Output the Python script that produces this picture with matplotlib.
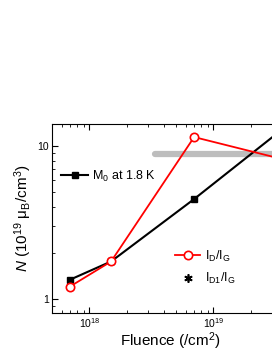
import numpy as np
import matplotlib.pyplot as plt

plt.rcParams['font.family'] = ['Liberation Sans', 'DejaVu Sans']
plt.rcParams['mathtext.fontset'] = 'custom'
plt.rcParams['mathtext.rm'] = 'Liberation Sans'
plt.rcParams['mathtext.it'] = 'Liberation Sans:italic'

# fluence (/cm^2) and N (10^19 muB/cm^3)
fluence_m0 = [7e17, 1.5e18, 7e18, 3.5e19]
n_m0 = [1.33, 1.75, 4.48, 12.6]

fluence_id = [7e17, 1.5e18, 7e18, 4e19]
n_id = [1.2, 1.75, 11.4, 8.0]

band_x = [3.4e18, 4e19]
band_y = [8.8, 8.8]

fig = plt.figure(figsize=(2.72, 3.52), dpi=100)
ax = fig.add_axes([0.192, 0.111, 0.867, 0.537])

ax.plot(band_x, band_y, color='#bdbdbd', lw=4.5, solid_capstyle='round', zorder=1)
l1, = ax.plot(fluence_m0, n_m0, '-s', color='black', lw=1.5, ms=4, zorder=2,
              label=r'M$_\mathrm{0}$ at 1.8 K')
l2, = ax.plot(fluence_id, n_id, '-o', color='red', lw=1.3, ms=6, mfc='white',
              mec='red', mew=1.2, zorder=3, label=r'I$_\mathrm{D}$/I$_\mathrm{G}$')
l3, = ax.plot([], [], ls='none', marker=(6, 2, 0), color='black', ms=6, mew=1.2,
              label=r'I$_\mathrm{D1}$/I$_\mathrm{G}$')

ax.set_xscale('log')
ax.set_yscale('log')
ax.set_xlim(5.03e17, 4e19)
ax.set_ylim(0.806, 13.9)

ax.tick_params(which='both', direction='in', top=True, right=True, labelsize=7.5,
               pad=2.5)
ax.tick_params(which='major', length=4)
ax.tick_params(which='minor', length=2)
ax.yaxis.set_major_formatter(plt.FuncFormatter(lambda v, p: '%g' % v))
ax.yaxis.set_minor_formatter(plt.NullFormatter())

ax.set_xlabel('Fluence (/cm$^\\mathrm{2}$)', fontsize=11, labelpad=0)
ax.set_ylabel(r'$\it{N}$ (10$^\mathrm{19}$ μ$_\mathrm{B}$/cm$^\mathrm{3}$)',
              fontsize=11, labelpad=2)

leg1 = ax.legend(handles=[l1], loc='upper left', bbox_to_anchor=(0.0, 0.81),
                 frameon=False, fontsize=9, handlelength=2.2, handletextpad=0.3,
                 borderaxespad=0.3)
ax.add_artist(leg1)
ax.legend(handles=[l2, l3], loc='upper left', bbox_to_anchor=(0.475, 0.4),
          frameon=False, fontsize=9, handlelength=2.0, handletextpad=0.4,
          labelspacing=0.6)

fig.savefig('out.png', dpi=100)
